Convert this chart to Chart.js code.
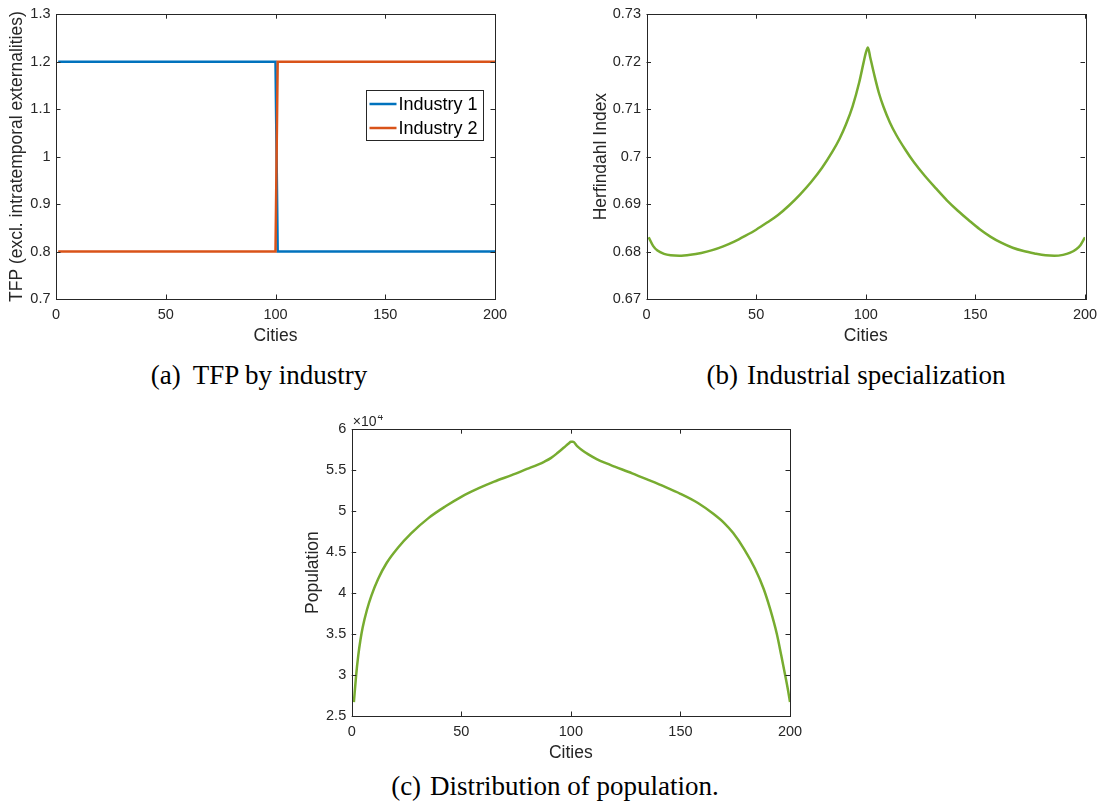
<!DOCTYPE html>
<html>
<head>
<meta charset="utf-8">
<script src="https://cdn.jsdelivr.net/npm/chart.js@4.4.0/dist/chart.umd.min.js"></script>
<style>
  body { margin: 0; background: #fff; width: 1105px; height: 806px; position: relative; overflow: hidden; }
  .panel { position: absolute; }
  .cap { position: absolute; transform: translateX(-50%); white-space: nowrap;
         font-family: "Liberation Serif", "DejaVu Serif", serif; font-size: 27px; line-height: 27px; color: #000; }
  .cap span { margin-right: 9px; }
</style>
</head>
<body>
<div class="panel" style="left:0;top:0;width:520px;height:352px"><canvas id="tfpChart" width="520" height="352"></canvas></div>
<div class="panel" style="left:560px;top:0;width:545px;height:352px"><canvas id="hhiChart" width="545" height="352"></canvas></div>
<div class="panel" style="left:290px;top:415px;width:520px;height:352px"><canvas id="popChart" width="520" height="352"></canvas></div>
<div class="cap" style="left:259px;top:362px"><span style="margin-right:12px">(a)</span>TFP by industry</div>
<div class="cap" style="left:856px;top:362px"><span>(b)</span>Industrial specialization</div>
<div class="cap" style="left:555px;top:773px"><span>(c)</span>Distribution of population.</div>
<script>
// x axis (cities) shared by all panels
const cityTicks = [0, 50, 100, 150, 200];

// (a) TFP by industry
const tfpCities = [1, 100, 101, 200];
const tfpIndustry1 = [1.2, 1.2, 0.8, 0.8];
const tfpIndustry2 = [0.8, 0.8, 1.2, 1.2];
const tfpTicks = [0.7, 0.8, 0.9, 1.0, 1.1, 1.2, 1.3];

// (b) Herfindahl index
const hhiCities = [1, 3, 5, 8, 11, 15, 20, 25, 30, 35, 40, 45, 50, 55, 60, 65, 70, 75, 80, 85, 88, 91, 94, 97, 99, 100,
  101, 102, 104, 106, 108, 111, 114, 118, 122, 127, 132, 137, 142, 147, 152, 157, 162, 167, 172, 177, 182, 186,
  190, 193, 196, 198, 200];
const hhiValues = [0.6830, 0.6812, 0.6802, 0.6795, 0.6792, 0.6791, 0.6793, 0.6797, 0.6803, 0.6811, 0.6821, 0.6833,
  0.6846, 0.6861, 0.6877, 0.6897, 0.6920, 0.6946, 0.6976, 0.7012, 0.7037, 0.7068, 0.7106, 0.7156, 0.7198, 0.7218,
  0.7230, 0.7210, 0.7170, 0.7134, 0.7106, 0.7072, 0.7045, 0.7015, 0.6988, 0.6959, 0.6933, 0.6908, 0.6886, 0.6866,
  0.6847, 0.6831, 0.6818, 0.6808, 0.6801, 0.6796, 0.6792, 0.6791, 0.6793, 0.6797, 0.6805, 0.6814, 0.6830];
const hhiTicks = [0.67, 0.68, 0.69, 0.70, 0.71, 0.72, 0.73];

// (c) population
const popCities = [1, 2, 3, 4, 5, 7, 9, 12, 16, 21, 27, 35, 43, 50, 58, 65, 73, 80, 85, 88, 91, 94, 97, 99, 100,
  101, 103, 105, 108, 112, 116, 120, 128, 135, 143, 150, 158, 165, 170, 174, 179, 184, 188, 191, 194, 196, 198, 199, 200];
const popValues = [26700, 29900, 32400, 34300, 35800, 38000, 39700, 41700, 43700, 45500, 47250, 49150, 50620, 51750,
  52800, 53600, 54400, 55150, 55680, 56050, 56500, 57120, 57800, 58250, 58460,
  58460, 57900, 57460, 56930, 56320, 55850, 55430, 54610, 53850, 52960, 52120, 51000, 49680, 48550, 47350, 45400,
  43000, 40500, 38000, 35000, 32400, 29700, 28300, 26700];
const popTicks = [25000, 30000, 35000, 40000, 45000, 50000, 55000, 60000];

const axisColor = '#262626';
const sansFont = '"Liberation Sans", Arial, sans-serif';
const green = '#77AC30';

function toPoints(xs, ys) {
  return xs.map((x, i) => ({ x: x, y: ys[i] }));
}

function fixedTicks(values) {
  return scale => { scale.ticks = values.map(v => ({ value: v })); };
}

// matlab style box with inward ticks on all four sides
const matlabBox = {
  id: 'matlabBox',
  afterDatasetsDraw(chart) {
    const { ctx, chartArea: a, scales } = chart;
    const len = 4.5;
    ctx.save();
    ctx.strokeStyle = axisColor;
    ctx.lineWidth = 1;
    ctx.beginPath();
    scales.x.ticks.forEach(t => {
      const px = Math.round(scales.x.getPixelForValue(t.value)) + 0.5;
      ctx.moveTo(px, a.bottom); ctx.lineTo(px, a.bottom - len);
      ctx.moveTo(px, a.top); ctx.lineTo(px, a.top + len);
    });
    scales.y.ticks.forEach(t => {
      const py = Math.round(scales.y.getPixelForValue(t.value)) + 0.5;
      ctx.moveTo(a.left, py); ctx.lineTo(a.left + len, py);
      ctx.moveTo(a.right, py); ctx.lineTo(a.right - len, py);
    });
    ctx.stroke();
    ctx.strokeRect(Math.round(a.left) + 0.5, Math.round(a.top) + 0.5,
      Math.round(a.right - a.left), Math.round(a.bottom - a.top));
    ctx.restore();
  }
};

// legend drawn inside the axes, like matlab's
const insideLegend = {
  id: 'insideLegend',
  afterDraw(chart) {
    const { ctx, chartArea: a } = chart;
    const boxW = 117, boxH = 50;
    const left = Math.round(a.right - 12 - boxW) + 0.5;
    const top = Math.round(a.top + 76) + 0.5;
    ctx.save();
    ctx.fillStyle = '#fff';
    ctx.fillRect(left, top, boxW, boxH);
    ctx.strokeStyle = axisColor;
    ctx.lineWidth = 1;
    ctx.strokeRect(left, top, boxW, boxH);
    ctx.font = '18px ' + sansFont;
    ctx.textBaseline = 'middle';
    chart.data.datasets.forEach((ds, i) => {
      const cy = top + 13.5 + i * 24;
      ctx.strokeStyle = ds.borderColor;
      ctx.lineWidth = 2.5;
      ctx.beginPath();
      ctx.moveTo(left + 3, cy);
      ctx.lineTo(left + 30, cy);
      ctx.stroke();
      ctx.fillStyle = '#000';
      ctx.fillText(ds.label, left + 32, cy + 1);
    });
    ctx.restore();
  }
};

// the x10^4 multiplier above the population axis
const exponentLabel = {
  id: 'exponentLabel',
  afterDraw(chart) {
    const { ctx, chartArea: a } = chart;
    ctx.save();
    ctx.fillStyle = axisColor;
    ctx.textBaseline = 'alphabetic';
    ctx.font = '14px ' + sansFont;
    ctx.fillText('\u00d710', a.left + 1, a.top - 3);
    const w = ctx.measureText('\u00d710').width;
    ctx.font = '10px ' + sansFont;
    ctx.fillText('4', a.left + 2 + w, a.top - 9);
    ctx.restore();
  }
};

function panelOptions(cfg) {
  return {
    responsive: false,
    animation: false,
    events: [],
    layout: { padding: cfg.padding },
    plugins: { legend: { display: false }, tooltip: { enabled: false } },
    scales: {
      x: {
        type: 'linear',
        min: 0,
        max: 200,
        afterBuildTicks: fixedTicks(cityTicks),
        afterFit: s => { s.height = cfg.xHeight; },
        grid: { display: false, drawTicks: false },
        border: { display: false },
        ticks: { color: axisColor, font: { family: sansFont, size: 14.5 }, padding: 7, maxRotation: 0,
          callback: v => String(v) },
        title: { display: true, text: 'Cities', color: axisColor, font: { family: sansFont, size: 17.5 },
          padding: { top: 0, bottom: cfg.xTitlePad } }
      },
      y: {
        type: 'linear',
        min: cfg.yMin,
        max: cfg.yMax,
        afterBuildTicks: fixedTicks(cfg.yTicks),
        afterFit: s => { s.width = cfg.yWidth; },
        grid: { display: false, drawTicks: false },
        border: { display: false },
        ticks: { color: axisColor, font: { family: sansFont, size: 14.5 }, padding: 5.5, callback: cfg.yFormat },
        title: { display: true, text: cfg.yTitle, color: axisColor, font: { family: sansFont, size: 17.5 },
          padding: { top: cfg.yTitlePad, bottom: 0 } }
      }
    }
  };
}

new Chart(document.getElementById('tfpChart'), {
  type: 'line',
  data: {
    datasets: [
      { label: 'Industry 1', data: toPoints(tfpCities, tfpIndustry1), borderColor: '#0072BD',
        borderWidth: 2.5, pointRadius: 0, tension: 0, order: 1 },
      { label: 'Industry 2', data: toPoints(tfpCities, tfpIndustry2), borderColor: '#D95319',
        borderWidth: 2.5, pointRadius: 0, tension: 0, order: 0 }
    ]
  },
  options: panelOptions({
    padding: { top: 11, right: 25, bottom: 0, left: 0 },
    xHeight: 53, yWidth: 56, xTitlePad: 5.5, yTitlePad: 7,
    yMin: 0.7, yMax: 1.3, yTicks: tfpTicks,
    yFormat: v => String(+v.toFixed(2)),
    yTitle: 'TFP (excl. intratemporal externalities)'
  }),
  plugins: [matlabBox, insideLegend]
});

new Chart(document.getElementById('hhiChart'), {
  type: 'line',
  data: {
    datasets: [
      { label: 'Herfindahl Index', data: toPoints(hhiCities, hhiValues), borderColor: green,
        borderWidth: 2.5, pointRadius: 0, cubicInterpolationMode: 'monotone' }
    ]
  },
  options: panelOptions({
    padding: { top: 11, right: 20, bottom: 0, left: 0 },
    xHeight: 53, yWidth: 86.5, xTitlePad: 5.5, yTitlePad: 30.5,
    yMin: 0.67, yMax: 0.73, yTicks: hhiTicks,
    yFormat: v => String(+v.toFixed(3)),
    yTitle: 'Herfindahl Index'
  }),
  plugins: [matlabBox]
});

new Chart(document.getElementById('popChart'), {
  type: 'line',
  data: {
    datasets: [
      { label: 'Population', data: toPoints(popCities, popValues), borderColor: green,
        borderWidth: 2.5, pointRadius: 0, cubicInterpolationMode: 'monotone' }
    ]
  },
  options: panelOptions({
    padding: { top: 12.3, right: 20, bottom: 0, left: 0 },
    xHeight: 51, yWidth: 61.7, xTitlePad: 3.5, yTitlePad: 12.5,
    yMin: 25000, yMax: 60000, yTicks: popTicks,
    yFormat: v => String(+(v / 10000).toFixed(2)),
    yTitle: 'Population'
  }),
  plugins: [matlabBox, exponentLabel]
});
</script>
</body>
</html>
